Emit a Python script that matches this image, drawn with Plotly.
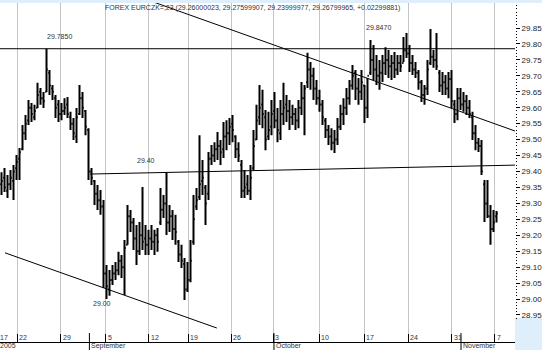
import plotly.graph_objects as go

# ---------------- data ----------------
bar_index = list(range(166))

highs = [29.398, 29.411, 29.389, 29.405, 29.420, 29.452, 29.474, 29.546, 29.577, 29.624,
         29.615, 29.609, 29.678, 29.662, 29.649, 29.785, 29.718, 29.671, 29.640, 29.624,
         29.615, 29.630, 29.634, 29.587, 29.568, 29.599, 29.671, 29.649, 29.593, 29.536,
         29.411, 29.373, 29.358, 29.342, 29.311, 29.107, 29.091, 29.107, 29.116, 29.148,
         29.138, 29.185, 29.295, 29.279, 29.254, 29.232, 29.242, 29.351, 29.232, 29.217,
         29.232, 29.217, 29.223, 29.348, 29.326, 29.398, 29.295, 29.279, 29.264, 29.185,
         29.170, 29.129, 29.116, 29.185, 29.326, 29.348, 29.514, 29.436, 29.358, 29.461,
         29.483, 29.492, 29.524, 29.499, 29.555, 29.561, 29.568, 29.577, 29.514, 29.492,
         29.436, 29.405, 29.389, 29.420, 29.530, 29.609, 29.671, 29.656, 29.593, 29.587,
         29.624, 29.649, 29.599, 29.624, 29.678, 29.640, 29.624, 29.609, 29.599, 29.624,
         29.681, 29.671, 29.772, 29.743, 29.725, 29.687, 29.656, 29.624, 29.568, 29.546,
         29.536, 29.530, 29.568, 29.609, 29.630, 29.662, 29.687, 29.734, 29.718, 29.693,
         29.718, 29.671, 29.693, 29.812, 29.797, 29.765, 29.750, 29.765, 29.790, 29.781,
         29.765, 29.775, 29.765, 29.765, 29.822, 29.834, 29.797, 29.765, 29.743, 29.718,
         29.687, 29.671, 29.750, 29.847, 29.781, 29.834, 29.718, 29.712, 29.703, 29.712,
         29.718, 29.624, 29.662, 29.662, 29.649, 29.640, 29.624, 29.587, 29.546, 29.505,
         29.499, 29.373, 29.373, 29.295, 29.279, 29.276]

lows = [29.326, 29.336, 29.317, 29.342, 29.311, 29.373, 29.373, 29.467, 29.499, 29.546,
        29.555, 29.561, 29.599, 29.609, 29.599, 29.649, 29.640, 29.624, 29.568, 29.555,
        29.561, 29.577, 29.568, 29.530, 29.499, 29.489, 29.577, 29.568, 29.514, 29.373,
        29.358, 29.295, 29.279, 29.264, 29.035, 29.000, 29.010, 29.044, 29.060, 29.075,
        29.066, 29.013, 29.170, 29.210, 29.154, 29.107, 29.138, 29.154, 29.138, 29.138,
        29.154, 29.138, 29.148, 29.232, 29.254, 29.201, 29.210, 29.185, 29.170, 29.116,
        29.097, 28.997, 29.022, 29.053, 29.170, 29.279, 29.311, 29.326, 29.232, 29.311,
        29.420, 29.430, 29.436, 29.420, 29.442, 29.467, 29.483, 29.492, 29.442, 29.430,
        29.317, 29.317, 29.326, 29.311, 29.405, 29.499, 29.546, 29.536, 29.467, 29.499,
        29.514, 29.536, 29.492, 29.499, 29.546, 29.555, 29.530, 29.546, 29.530, 29.536,
        29.577, 29.514, 29.662, 29.656, 29.624, 29.609, 29.587, 29.546, 29.505, 29.483,
        29.467, 29.458, 29.483, 29.530, 29.546, 29.577, 29.609, 29.656, 29.624, 29.609,
        29.624, 29.552, 29.568, 29.703, 29.687, 29.671, 29.656, 29.681, 29.703, 29.693,
        29.687, 29.693, 29.703, 29.712, 29.743, 29.756, 29.712, 29.703, 29.693, 29.656,
        29.618, 29.609, 29.640, 29.734, 29.725, 29.718, 29.649, 29.640, 29.640, 29.630,
        29.599, 29.552, 29.561, 29.593, 29.587, 29.577, 29.568, 29.499, 29.467, 29.461,
        29.389, 29.242, 29.254, 29.170, 29.210, 29.240]

opens = [29.36, 29.38, 29.34, 29.36, 29.37, 29.41, 29.44, 29.47, 29.52, 29.56,
         29.60, 29.57, 29.60, 29.65, 29.63, 29.65, 29.71, 29.66, 29.63, 29.61,
         29.58, 29.59, 29.61, 29.57, 29.55, 29.51, 29.58, 29.63, 29.59, 29.53,
         29.40, 29.37, 29.33, 29.31, 29.29, 29.08, 29.03, 29.06, 29.08, 29.09,
         29.12, 29.10, 29.17, 29.26, 29.24, 29.19, 29.15, 29.20, 29.19, 29.17,
         29.19, 29.18, 29.20, 29.24, 29.28, 29.30, 29.24, 29.26, 29.22, 29.18,
         29.14, 29.11, 29.03, 29.06, 29.18, 29.29, 29.32, 29.37, 29.35, 29.33,
         29.44, 29.45, 29.47, 29.48, 29.47, 29.51, 29.52, 29.55, 29.51, 29.47,
         29.42, 29.34, 29.36, 29.34, 29.41, 29.50, 29.57, 29.61, 29.57, 29.51,
         29.54, 29.59, 29.56, 29.52, 29.58, 29.61, 29.59, 29.57, 29.58, 29.56,
         29.60, 29.63, 29.68, 29.72, 29.70, 29.66, 29.63, 29.61, 29.56, 29.53,
         29.51, 29.49, 29.50, 29.54, 29.58, 29.60, 29.63, 29.67, 29.71, 29.66,
         29.65, 29.67, 29.60, 29.71, 29.75, 29.72, 29.70, 29.71, 29.74, 29.75,
         29.73, 29.74, 29.72, 29.74, 29.74, 29.78, 29.77, 29.74, 29.72, 29.71,
         29.68, 29.64, 29.66, 29.74, 29.76, 29.75, 29.71, 29.67, 29.68, 29.66,
         29.69, 29.61, 29.58, 29.63, 29.61, 29.62, 29.60, 29.57, 29.52, 29.49,
         29.48, 29.36, 29.30, 29.26, 29.22, 29.26]

closes = [29.37, 29.35, 29.36, 29.38, 29.40, 29.43, 29.46, 29.52, 29.55, 29.60,
          29.58, 29.59, 29.64, 29.63, 29.62, 29.72, 29.67, 29.65, 29.60, 29.58,
          29.59, 29.60, 29.58, 29.55, 29.52, 29.57, 29.63, 29.60, 29.54, 29.40,
          29.38, 29.33, 29.31, 29.29, 29.08, 29.04, 29.06, 29.08, 29.09, 29.12,
          29.10, 29.16, 29.26, 29.24, 29.19, 29.15, 29.20, 29.18, 29.17, 29.19,
          29.18, 29.20, 29.18, 29.28, 29.30, 29.24, 29.26, 29.22, 29.21, 29.14,
          29.12, 29.03, 29.06, 29.12, 29.25, 29.31, 29.36, 29.38, 29.30, 29.44,
          29.45, 29.47, 29.48, 29.46, 29.51, 29.52, 29.54, 29.53, 29.47, 29.45,
          29.34, 29.35, 29.34, 29.38, 29.48, 29.56, 29.60, 29.58, 29.50, 29.53,
          29.58, 29.56, 29.53, 29.58, 29.60, 29.59, 29.57, 29.58, 29.56, 29.60,
          29.63, 29.66, 29.72, 29.70, 29.66, 29.63, 29.61, 29.57, 29.53, 29.51,
          29.49, 29.50, 29.54, 29.58, 29.60, 29.63, 29.67, 29.70, 29.66, 29.65,
          29.68, 29.60, 29.70, 29.75, 29.72, 29.70, 29.71, 29.74, 29.75, 29.73,
          29.74, 29.72, 29.74, 29.73, 29.78, 29.77, 29.74, 29.72, 29.71, 29.68,
          29.64, 29.66, 29.72, 29.76, 29.75, 29.73, 29.67, 29.68, 29.66, 29.69,
          29.62, 29.58, 29.63, 29.61, 29.62, 29.60, 29.58, 29.52, 29.49, 29.48,
          29.40, 29.30, 29.26, 29.22, 29.24, 29.268]

# week ticks (positions in bar units) and their labels
week_pos = [5.27, 19.83, 34.83, 49.07, 62.27, 76.6, 90.6, 105.93, 120.93, 135.6, 150.07, 164.4]
week_labels = ["22", "29", "5", "12", "19", "26", "3", "10", "17", "24", "31", "7"]
first_label = "17"

month_pos = [29.3, 90.83, 153.17]
month_labels = ["September", "October", "November"]
year_label = "2005"

y_ticks = [28.95, 29.00, 29.05, 29.10, 29.15, 29.20, 29.25, 29.30, 29.35, 29.40,
           29.45, 29.50, 29.55, 29.60, 29.65, 29.70, 29.75, 29.80, 29.85]

# drawn study lines
res_x, res_y = [-0.5, 171.17], [29.785, 29.785]
chan_up_x, chan_up_y = [50.5, 171.17], [29.932, 29.527]
chan_lo_x, chan_lo_y = [1.17, 71.8], [29.145, 28.909]
mid_x, mid_y = [29.5, 171.17], [29.392, 29.420]

# price labels
lab_text = ["29.7850", "29.8470", "29.40", "29.00"]
lab_x = [19.17, 125.7, 48.0, 33.4]
lab_y = [29.823, 29.853, 29.433, 28.987]

title_text = "FOREX EURCZK=,23 (29.26000023, 29.27599907, 29.23999977, 29.26799965, +0.02299881)"

# ---------------- figure ----------------
W, H = 542, 350
ML, MR, MT, MB = 0, 27, 3, 8
PW, PH = W - ML - MR, H - MT - MB
FONT = "Liberation Sans, Arial, sans-serif"
TXT = "#333333"
BLUE = "#dfeefb"

fig = go.Figure()

fig.add_trace(go.Ohlc(
    x=bar_index, open=opens, high=highs, low=lows, close=closes,
    increasing=dict(line=dict(color="black", width=2)),
    decreasing=dict(line=dict(color="black", width=2)),
    tickwidth=0.45, showlegend=False, hoverinfo="skip"))

for xs, ys in [(res_x, res_y), (chan_up_x, chan_up_y), (chan_lo_x, chan_lo_y), (mid_x, mid_y)]:
    fig.add_trace(go.Scatter(x=xs, y=ys, mode="lines",
                             line=dict(color="black", width=1),
                             showlegend=False, hoverinfo="skip"))

ann = []
for t, x, y in zip(lab_text, lab_x, lab_y):
    ann.append(dict(x=x, y=y, xref="x", yref="y", text=t, showarrow=False,
                    font=dict(family=FONT, size=7, color=TXT)))

ann.append(dict(x=103 / PW, y=(PH - 5) / PH, xref="paper", yref="paper",
                xanchor="left", yanchor="middle", text=title_text, showarrow=False,
                font=dict(family=FONT, size=7, color=TXT)))

for p, t in zip(week_pos, week_labels):
    ann.append(dict(x=p, y=0, xref="x", yref="paper", xanchor="left", yanchor="bottom",
                    text=t, showarrow=False, yshift=-1,
                    font=dict(family=FONT, size=7, color=TXT)))
ann.append(dict(x=-0.5, y=0, xref="x", yref="paper", xanchor="left", yanchor="bottom",
                text=first_label, showarrow=False, xshift=-2, yshift=-1,
                font=dict(family=FONT, size=7, color=TXT)))

for p, t in zip(month_pos, month_labels):
    ann.append(dict(x=p, y=0, xref="x", yref="paper", xanchor="left", yanchor="top",
                    text=t, showarrow=False, yshift=2,
                    font=dict(family=FONT, size=7, color=TXT)))
ann.append(dict(x=-0.5, y=0, xref="x", yref="paper", xanchor="left", yanchor="top",
                text=year_label, showarrow=False, xshift=-2, yshift=2,
                font=dict(family=FONT, size=7, color=TXT)))

shapes = [
    # white right axis panel and bottom strip
    dict(type="rect", xref="paper", yref="paper", x0=1, x1=(W - ML) / PW,
         y0=(342 - 318) / PH, y1=1,
         fillcolor="white", line=dict(width=0), layer="below"),
    dict(type="rect", xref="paper", yref="paper", x0=0, x1=1,
         y0=-MB / PH, y1=0, fillcolor="white", line=dict(width=0), layer="below"),
]
for p in month_pos:
    shapes.append(dict(type="line", xref="x", yref="paper", x0=p, x1=p,
                       y0=9 / PH, y1=-MB / PH, line=dict(color="black", width=1)))

minor_vals = [round(28.94 + 0.01 * k, 2) for k in range(99)]

fig.update_layout(
    width=W, height=H,
    margin=dict(l=ML, r=MR, t=MT, b=MB),
    paper_bgcolor=BLUE, plot_bgcolor="white",
    showlegend=False,
    annotations=ann, shapes=shapes,
    xaxis=dict(range=[-0.5, 171.17], rangeslider=dict(visible=False),
               tickmode="array", tickvals=week_pos, ticktext=[""] * len(week_pos),
               showgrid=True, gridcolor="#c4c4c4", gridwidth=1,
               ticks="inside", ticklen=8, tickcolor="black", tickwidth=1,
               showline=True, linecolor="black", linewidth=1,
               zeroline=False, fixedrange=True),
    yaxis=dict(range=[28.8653, 29.9284], side="right",
               tickmode="array", tickvals=y_ticks,
               tickformat=".2f", showgrid=False, zeroline=False, showline=False,
               ticks="outside", ticklen=4, tickcolor="black", tickwidth=1,
               tickfont=dict(family=FONT, size=8, color="#222222"),
               minor=dict(tickmode="array", tickvals=minor_vals, ticks="outside",
                          ticklen=1, tickcolor="black", tickwidth=1, showgrid=False),
               fixedrange=True),
)

fig.write_html("out.html")
